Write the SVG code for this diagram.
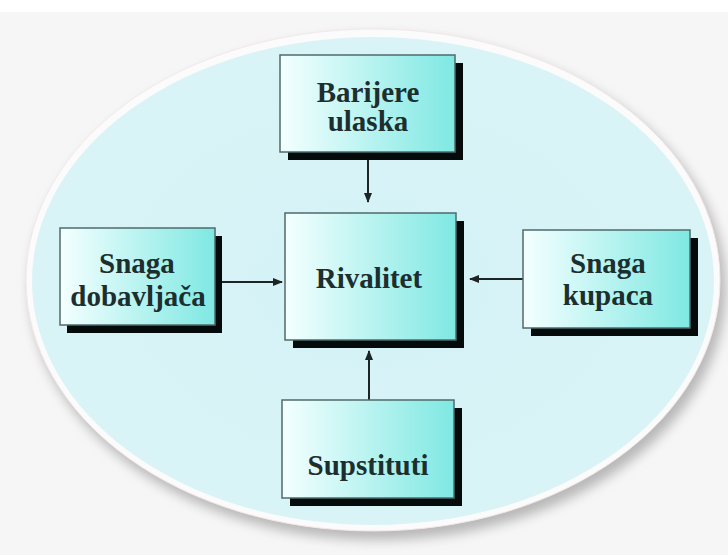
<svg xmlns="http://www.w3.org/2000/svg" width="728" height="555" viewBox="0 0 728 555">
<style>
.box{fill:url(#bg);stroke:#4f6b6b;stroke-width:1.5}
.sh{fill:#050a0a}
.t{font-family:"Liberation Serif",serif;font-weight:bold;font-size:29px;fill:#1c2e2e;text-anchor:middle}
.c{stroke:#1c2424;stroke-width:2;fill:none;marker-end:url(#ah)}
</style>
<defs>
<linearGradient id="bg" x1="0" y1="0" x2="1" y2="0">
<stop offset="0" stop-color="#f4ffff"/>
<stop offset="1" stop-color="#7fe8e2"/>
</linearGradient>
<radialGradient id="eg" cx="0.5" cy="0.5" r="0.6">
<stop offset="0" stop-color="#d4f2f6"/>
<stop offset="1" stop-color="#daf4f7"/>
</radialGradient>
<filter id="blur" x="-10%" y="-10%" width="120%" height="120%"><feGaussianBlur stdDeviation="6"/></filter>
<marker id="ah" viewBox="0 0 10 10" refX="9" refY="5" markerWidth="5" markerHeight="5" orient="auto">
<path d="M0,1 L10,5 L0,9 Z" fill="#1c2424"/>
</marker>
</defs>
<rect width="728" height="555" fill="#f6f6f6"/>
<rect width="728" height="12" fill="#ffffff"/>
<ellipse cx="378" cy="288" rx="348" ry="252" fill="#b8b8b8" filter="url(#blur)"/>
<ellipse cx="373" cy="280" rx="347" ry="251" fill="#fbfbfb" stroke="#f4e8ea" stroke-width="1"/>
<ellipse cx="373" cy="281" rx="341" ry="244" fill="url(#eg)"/>
<g id="connectors">
<line class="c" x1="368" y1="160" x2="368" y2="202"/>
<line class="c" x1="222" y1="282" x2="282" y2="282"/>
<line class="c" x1="523" y1="279" x2="470" y2="279"/>
<line class="c" x1="369" y1="400" x2="369" y2="351"/>
</g>
<g id="barijere">
<rect class="sh" x="288" y="63" width="175" height="97"/>
<rect class="box" x="280" y="55" width="175" height="97"/>
<text class="t" x="368" y="102">Barijere</text>
<text class="t" x="368" y="131">ulaska</text>
</g>
<g id="rivalitet">
<rect class="sh" x="293" y="221" width="171" height="127"/>
<rect class="box" x="285" y="213" width="171" height="127"/>
<text class="t" x="369" y="288">Rivalitet</text>
</g>
<g id="dobavljaca">
<rect class="sh" x="67" y="236" width="155" height="97"/>
<rect class="box" x="60" y="228" width="155" height="97"/>
<text class="t" x="137" y="273">Snaga</text>
<text class="t" x="138" y="306">dobavljača</text>
</g>
<g id="kupaca">
<rect class="sh" x="531" y="238" width="167" height="98"/>
<rect class="box" x="523" y="230" width="167" height="98"/>
<text class="t" x="608" y="273">Snaga</text>
<text class="t" x="608" y="305">kupaca</text>
</g>
<g id="supstituti">
<rect class="sh" x="290" y="408" width="172" height="98"/>
<rect class="box" x="282" y="400" width="172" height="98"/>
<text class="t" x="368" y="475">Supstituti</text>
</g>
</svg>
